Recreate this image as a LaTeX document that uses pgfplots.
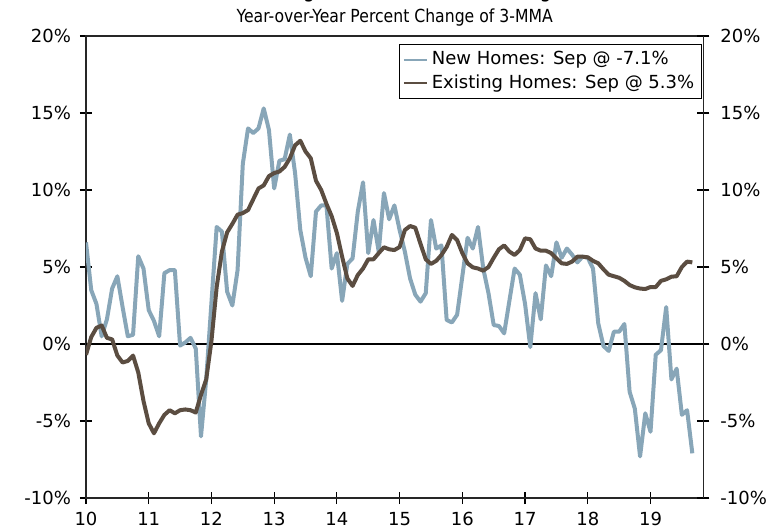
\documentclass[border=0pt]{standalone}
\usepackage{fontspec}
\setmainfont{DejaVu Sans}
\newfontfamily\condfont{DejaVu Sans}[FakeStretch=0.87]
\usepackage{pgfplots}
\pgfplotsset{compat=1.18}
\usepackage{pgfplotstable}

\definecolor{newhomes}{RGB}{136,166,184}
\definecolor{existing}{RGB}{91,77,65}

% month index (0 = Jan 2010), new homes, existing homes (yoy % of 3-MMA)
\pgfplotstableread{
m new exist
0 6.6 -0.7
1 3.5 0.45
2 2.6 1.05
3 0.5 1.2
4 1.6 0.4
5 3.6 0.3
6 4.4 -0.75
7 2.4 -1.2
8 0.5 -1.1
9 0.6 -0.75
10 5.7 -1.85
11 4.9 -3.7
12 2.2 -5.15
13 1.5 -5.8
14 0.5 -5.15
15 4.6 -4.6
16 4.8 -4.3
17 4.8 -4.5
18 -0.1 -4.3
19 0.1 -4.25
20 0.4 -4.3
21 -0.3 -4.45
22 -6.0 -3.3
23 -2.3 -2.3
24 2.7 0.2
25 7.6 3.7
26 7.3 6.0
27 3.4 7.25
28 2.5 7.8
29 4.8 8.4
30 11.7 8.5
31 14.0 8.7
32 13.7 9.4
33 14.0 10.1
34 15.3 10.3
35 13.9 10.9
36 10.1 11.1
37 11.9 11.2
38 12.0 11.5
39 13.6 12.06
40 11.1 12.9
41 7.4 13.2
42 5.6 12.5
43 4.4 12.06
44 8.6 10.6
45 9.0 10.0
46 9.0 9.1
47 4.9 8.3
48 5.9 7.2
49 2.8 5.67
50 5.2 4.26
51 5.56 3.77
52 8.6 4.48
53 10.5 4.9
54 5.9 5.5
55 8.05 5.5
56 6.0 5.9
57 9.8 6.28
58 8.1 6.15
59 9.0 6.1
60 7.4 6.3
61 6.0 7.4
62 4.26 7.66
63 3.2 7.55
64 2.75 6.5
65 3.3 5.5
66 8.05 5.2
67 6.2 5.4
68 6.4 5.78
69 1.56 6.3
70 1.4 7.08
71 1.9 6.75
72 4.4 5.9
73 6.9 5.24
74 6.2 4.98
75 7.6 4.9
76 4.9 4.76
77 3.3 5.0
78 1.23 5.6
79 1.17 6.15
80 0.69 6.4
81 2.8 6.0
82 4.9 5.78
83 4.5 6.1
84 2.6 6.86
85 -0.2 6.8
86 3.3 6.2
87 1.6 6.06
88 5.1 6.06
89 4.4 5.9
90 6.6 5.56
91 5.6 5.24
92 6.2 5.2
93 5.8 5.35
94 5.3 5.67
95 5.67 5.67
96 5.6 5.63
97 4.9 5.4
98 1.34 5.24
99 -0.13 4.85
100 -0.45 4.5
101 0.8 4.4
102 0.8 4.3
103 1.3 4.1
104 -3.1 3.83
105 -4.2 3.68
106 -7.3 3.6
107 -4.5 3.57
108 -5.7 3.7
109 -0.7 3.7
110 -0.4 4.1
111 2.4 4.2
112 -2.3 4.37
113 -1.6 4.4
114 -4.6 5.0
115 -4.3 5.35
116 -7.1 5.3
}\prices

\begin{document}
\begin{tikzpicture}
\pgfplotsset{
  common/.style={
    scale only axis,
    width=308.65pt, height=231pt,
    xmin=0, xmax=118.1,
    ymin=-10, ymax=20,
    ytick={-10,-5,0,5,10,15,20},
    yticklabels={-10\%,-5\%,0\%,5\%,10\%,15\%,20\%},
    tick align=center,
    major tick length=6pt,
    tick style={black, line width=0.6pt},
    tick label style={font=\fontsize{9}{11}\selectfont, black},
  }
}
\begin{axis}[
  common,
  name=main,
  axis line style={black!85, line width=0.7pt},
  xtick={0,12,...,108},
  xticklabels={10,11,12,13,14,15,16,17,18,19},
  xticklabel style={yshift=-0.5pt},
  yticklabel style={xshift=-1pt},
  ytick pos=left,
  xtick pos=bottom,
  legend style={
    at={(1,1)}, anchor=north east, xshift=-0.8pt, yshift=-4pt,
    draw=black, line width=0.5pt,
    font=\fontsize{9}{10.5}\selectfont,
    inner sep=1.5pt, row sep=-0.5pt,
    cells={anchor=west},
  },
  legend image code/.code={\draw[#1, line width=1.1pt] (0pt,0pt) -- (11.5pt,0pt);},
]
\draw[black, line width=0.6pt] (axis cs:0,0) -- (axis cs:118.1,0);
\addplot[newhomes, line width=2pt, line join=round] table[x=m, y=new] {\prices};
\addlegendentry{New Homes: Sep @ -7.1\%}
\addplot[existing, line width=2pt, line join=round] table[x=m, y=exist] {\prices};
\addlegendentry{Existing Homes: Sep @ 5.3\%}
\end{axis}
\begin{axis}[
  common,
  at={(main.south west)}, anchor=south west,
  axis x line=none,
  axis y line*=right,
  axis line style={black!85, line width=0.7pt},
  yticklabel style={xshift=2pt},
]
\end{axis}
\node[anchor=base, font=\condfont\fontsize{9}{11}\selectfont] at ([yshift=7pt]main.north) {Year-over-Year Percent Change of 3-MMA};
\node[anchor=base, font=\condfont\fontsize{11}{13}\selectfont] at ([yshift=19.5pt]main.north) {Housing Prices: New vs. Existing};
\pgfresetboundingbox
\path[use as bounding box] ([xshift=-43pt,yshift=-13.5pt]main.south west) rectangle ([xshift=35.85pt,yshift=18pt]main.north east);
\end{tikzpicture}
\end{document}
